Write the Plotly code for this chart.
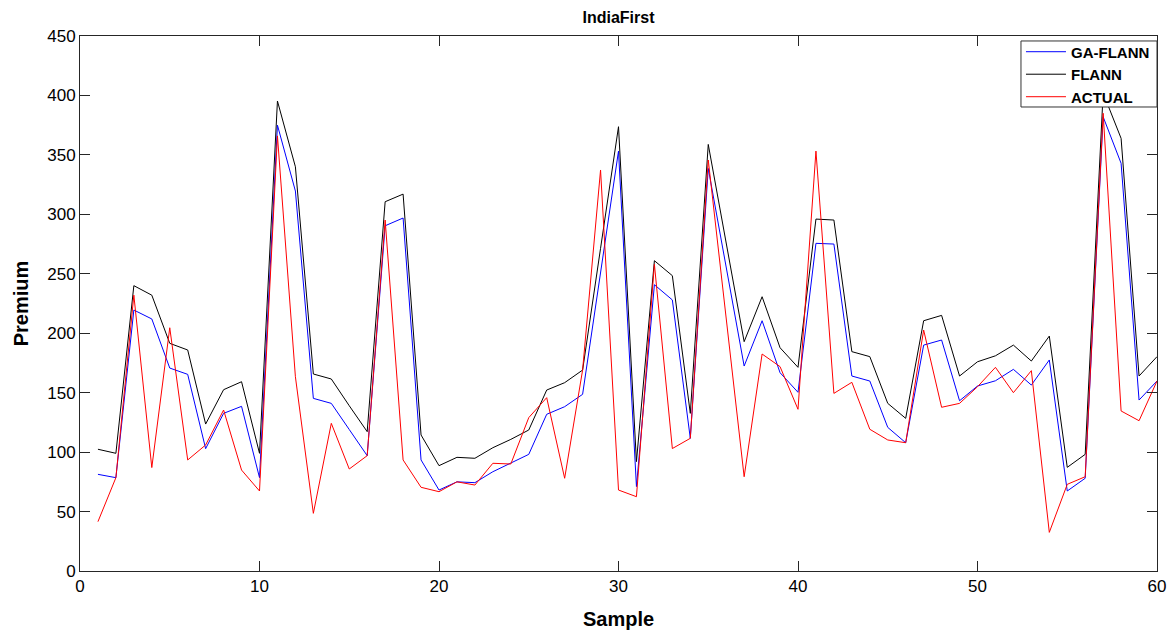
import plotly.graph_objects as go

sample = [1, 2, 3, 4, 5, 6, 7, 8, 9, 10, 11, 12, 13, 14, 15, 16, 17, 18, 19, 20,
          21, 22, 23, 24, 25, 26, 27, 28, 29, 30, 31, 32, 33, 34, 35, 36, 37, 38, 39, 40,
          41, 42, 43, 44, 45, 46, 47, 48, 49, 50, 51, 52, 53, 54, 55, 56, 57, 58, 59, 60]

ga_flann = [81.3, 78.5, 219.5, 212, 170.7, 165.4, 102.9, 132.6, 138.5, 78.5,
            375, 319.6, 145.2, 141, 119, 97, 290.4, 296.9, 93.4, 68.1,
            75, 74.3, 83.5, 90.6, 98.1, 131.8, 138.2, 148.6, 251, 353.2,
            71, 240.8, 228, 111.6, 338.6, 255.7, 172.4, 210.5, 166.8, 150.3,
            275.6, 275, 164, 159.8, 120.8, 107.9, 190, 194.3, 143.2, 155.6,
            160, 169.6, 156.4, 177.5, 67.3, 78, 382, 342.9, 143.8, 159.8]

flann = [102.4, 99, 240, 232, 191.5, 185.9, 123.6, 152.5, 159.2, 99,
         395.3, 340, 165.7, 161.5, 139, 117.2, 310.6, 317, 114.4, 88.6,
         95.6, 94.8, 103.7, 110.7, 118.6, 152.2, 158.4, 169, 271.4, 373.7,
         92, 261, 248.4, 132.6, 358.8, 275.9, 192.9, 230.7, 187.8, 171.3,
         296, 295.2, 184.5, 180.3, 141, 128.4, 210.5, 215, 164, 176,
         181, 190, 176.6, 197.6, 87.2, 98.1, 402, 363.9, 164, 180.3]

actual = [41.5, 78.5, 232, 87, 204.6, 93.4, 106, 135.4, 84.9, 67.3,
          366, 163.4, 48.5, 124.2, 85.8, 97, 295.2, 93.4, 70.4, 66.7,
          75, 72.3, 90.6, 90, 129, 145.8, 78, 169, 337.3, 68.1,
          62.5, 258, 103, 111.6, 345.7, 212.5, 79.3, 182.5, 171.9, 136,
          353.2, 149.4, 158.7, 119.2, 110.2, 107.9, 202.7, 137.7, 141, 155,
          171.3, 150, 168.5, 32.5, 72.9, 79.3, 385, 134.6, 126.4, 159.8]

x_ticks = [0, 10, 20, 30, 40, 50, 60]
y_ticks = [0, 50, 100, 150, 200, 250, 300, 350, 400, 450]

FONT = "Arial, Liberation Sans, sans-serif"
AXC = "#262626"
W, H = 1167, 623

fig = go.Figure()
fig.add_trace(go.Scatter(x=sample, y=ga_flann, mode="lines", name="GA-FLANN",
                         line=dict(color="#0000FF", width=1)))
fig.add_trace(go.Scatter(x=sample, y=flann, mode="lines", name="FLANN",
                         line=dict(color="#000000", width=1)))
fig.add_trace(go.Scatter(x=sample, y=actual, mode="lines", name="ACTUAL",
                         line=dict(color="#FF0000", width=1)))

fig.update_layout(
    width=W, height=H,
    margin=dict(l=72, r=18, t=28, b=60),
    paper_bgcolor="white", plot_bgcolor="white",
    font=dict(family=FONT, size=17, color="black"),
    title=dict(text="<b>IndiaFirst</b>", xref="paper", x=0.5, xanchor="center",
               y=1 - 9 / H, yanchor="middle", font=dict(size=16, family=FONT)),
    showlegend=True,
    legend=dict(x=0.8737, xanchor="left", y=1.001, yanchor="top",
                bgcolor="rgba(0,0,0,0)", borderwidth=0,
                font=dict(size=15, family=FONT, weight="bold"),
                tracegroupgap=0, itemwidth=40),
    shapes=[dict(type="rect", xref="paper", yref="paper",
                 x0=0.8737, x1=1.0, y0=0.8673, y1=0.9907,
                 fillcolor="white", line=dict(color="#333333", width=1),
                 layer="above")],
)
fig.update_xaxes(
    range=[0, 60], tickmode="array", tickvals=x_ticks, automargin=False,
    ticks="inside", ticklen=10, tickcolor=AXC, showline=True, linecolor=AXC,
    linewidth=1, mirror="ticks", showgrid=False, zeroline=False,
    title=dict(text="<b>Sample</b>", font=dict(size=20, family=FONT), standoff=16),
    tickfont=dict(size=17),
)
fig.update_yaxes(
    range=[0, 450], tickmode="array", tickvals=y_ticks, automargin=False,
    ticks="inside", ticklen=10, tickcolor=AXC, showline=True, linecolor=AXC,
    linewidth=1, mirror="ticks", showgrid=False, zeroline=False,
    title=dict(text="<b>Premium</b>", font=dict(size=20, family=FONT), standoff=13),
    tickfont=dict(size=17),
)

fig.write_html("out.html")
